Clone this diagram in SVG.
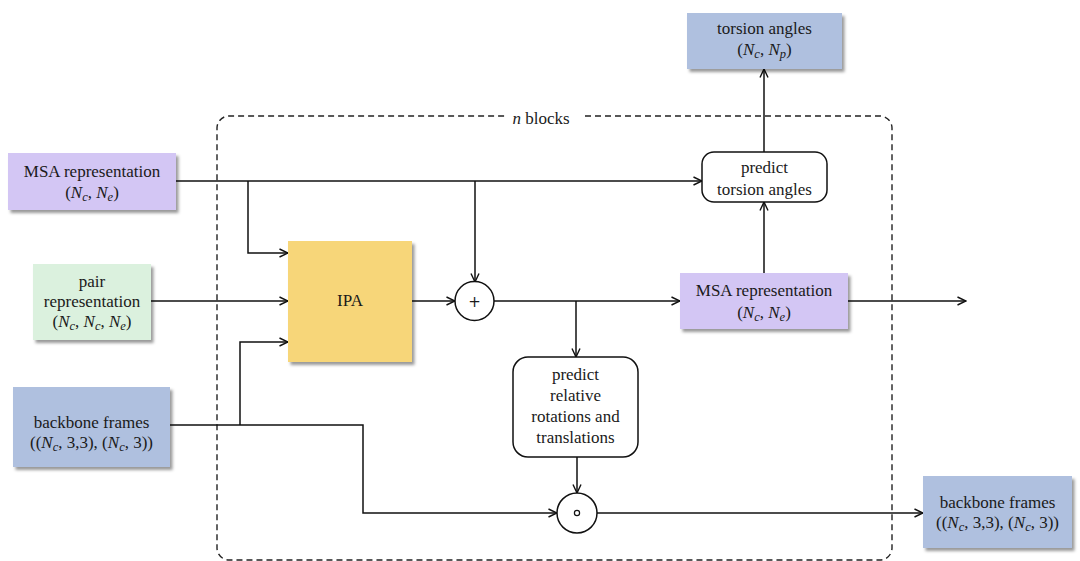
<svg xmlns="http://www.w3.org/2000/svg" width="1080" height="561" viewBox="0 0 1080 561">
  <defs>
    <filter id="shadow" x="-10%" y="-10%" width="125%" height="130%">
      <feDropShadow dx="2.5" dy="3" stdDeviation="1.8" flood-color="#000" flood-opacity="0.4"/>
    </filter>
    <marker id="arrow" viewBox="0 0 10 10" refX="9.5" refY="5" markerWidth="10" markerHeight="10" markerUnits="userSpaceOnUse" orient="auto">
      <path d="M1,1 L9.5,5 L1,9" fill="none" stroke="#111" stroke-width="1.4"/>
    </marker>
  </defs>
  <style>
    text { font-family: "Liberation Serif", "Times New Roman", serif; font-size: 17px; fill: #1a1a1a; text-anchor: middle; }
    .m { font-style: italic; }
    .s { font-size: 12.5px; font-style: italic; }
    .op { font-family: "DejaVu Sans", sans-serif; font-size: 15px; }
    .conn path { fill: none; stroke: #111; stroke-width: 1.5; marker-end: url(#arrow); }
    .msa { fill: #d3c6f4; filter: url(#shadow); }
    .pair { fill: #dbf1de; filter: url(#shadow); }
    .bb { fill: #afc0df; filter: url(#shadow); }
    .ipa { fill: #f7d679; filter: url(#shadow); }
    .proc { fill: #fff; stroke: #111; stroke-width: 1.5; }
  </style>
  <rect width="1080" height="561" fill="#fff"/>

  <!-- repeated block boundary -->
  <g id="block-frame">
    <path d="M585,116 H880 A12,12 0 0 1 892,128 V548 A12,12 0 0 1 880,560 H229 A12,12 0 0 1 217,548 V128 A12,12 0 0 1 229,116 H505" fill="none" stroke="#222" stroke-width="1.4" stroke-dasharray="6,4"/>
    <text x="541" y="124"><tspan class="m">n</tspan> blocks</text>
  </g>

  <!-- connectors -->
  <g class="conn" id="connectors">
    <path d="M176,181 H702"/>
    <path d="M248,181 V253 H288"/>
    <path d="M475,181 V282"/>
    <path d="M151,301 H288"/>
    <path d="M170,425 H363 V513 H557"/>
    <path d="M240,425 V342 H288"/>
    <path d="M412,301 H455"/>
    <path d="M494,301 H680"/>
    <path d="M576,301 V357"/>
    <path d="M577,457 V493"/>
    <path d="M597,513 H923"/>
    <path d="M764,273 V202"/>
    <path d="M764,152 V69"/>
    <path d="M848,301 H966"/>
  </g>

  <!-- inputs -->
  <g id="msa-in">
    <rect class="msa" x="8" y="153" width="168" height="57"/>
    <text x="92" y="177">MSA representation</text>
    <text x="92" y="198">(<tspan class="m">N</tspan><tspan class="s" dy="3">c</tspan><tspan dy="-3">, </tspan><tspan class="m">N</tspan><tspan class="s" dy="3">e</tspan><tspan dy="-3">)</tspan></text>
  </g>
  <g id="pair-in">
    <rect class="pair" x="33" y="264" width="118" height="76"/>
    <text x="92" y="287">pair</text>
    <text x="92" y="307">representation</text>
    <text x="92" y="327">(<tspan class="m">N</tspan><tspan class="s" dy="3">c</tspan><tspan dy="-3">, </tspan><tspan class="m">N</tspan><tspan class="s" dy="3">c</tspan><tspan dy="-3">, </tspan><tspan class="m">N</tspan><tspan class="s" dy="3">e</tspan><tspan dy="-3">)</tspan></text>
  </g>
  <g id="frames-in">
    <rect class="bb" x="13" y="387" width="157" height="80"/>
    <text x="91.5" y="428">backbone frames</text>
    <text x="91.5" y="448">((<tspan class="m">N</tspan><tspan class="s" dy="3">c</tspan><tspan dy="-3">, 3,3), (</tspan><tspan class="m">N</tspan><tspan class="s" dy="3">c</tspan><tspan dy="-3">, 3))</tspan></text>
  </g>

  <!-- block internals -->
  <g id="ipa">
    <rect class="ipa" x="288" y="241" width="124" height="121"/>
    <text x="350" y="306">IPA</text>
  </g>
  <g id="add">
    <circle class="proc" cx="474.5" cy="301" r="19.5"/>
    <text class="op" x="474.5" y="306.5">+</text>
  </g>
  <g id="msa-out">
    <rect class="msa" x="680" y="273" width="168" height="56"/>
    <text x="764" y="296">MSA representation</text>
    <text x="764" y="318">(<tspan class="m">N</tspan><tspan class="s" dy="3">c</tspan><tspan dy="-3">, </tspan><tspan class="m">N</tspan><tspan class="s" dy="3">e</tspan><tspan dy="-3">)</tspan></text>
  </g>
  <g id="predict-torsion">
    <rect class="proc" x="702" y="152" width="125" height="50" rx="12"/>
    <text x="764.5" y="173">predict</text>
    <text x="764.5" y="195">torsion angles</text>
  </g>
  <g id="predict-frames">
    <rect class="proc" x="513" y="357" width="125" height="100" rx="15"/>
    <text x="575.5" y="380">predict</text>
    <text x="575.5" y="401">relative</text>
    <text x="575.5" y="422">rotations and</text>
    <text x="575.5" y="443">translations</text>
  </g>
  <g id="compose">
    <circle class="proc" cx="577" cy="513" r="20"/>
    <circle cx="577" cy="513" r="2.6" fill="none" stroke="#111" stroke-width="1.2"/>
  </g>

  <!-- outputs -->
  <g id="torsion-out">
    <rect class="bb" x="687" y="13" width="155" height="56"/>
    <text x="764.5" y="34">torsion angles</text>
    <text x="764.5" y="55">(<tspan class="m">N</tspan><tspan class="s" dy="3">c</tspan><tspan dy="-3">, </tspan><tspan class="m">N</tspan><tspan class="s" dy="3">p</tspan><tspan dy="-3">)</tspan></text>
  </g>
  <g id="frames-out">
    <rect class="bb" x="923" y="476" width="149" height="72"/>
    <text x="997.5" y="508">backbone frames</text>
    <text x="997.5" y="528">((<tspan class="m">N</tspan><tspan class="s" dy="3">c</tspan><tspan dy="-3">, 3,3), (</tspan><tspan class="m">N</tspan><tspan class="s" dy="3">c</tspan><tspan dy="-3">, 3))</tspan></text>
  </g>
</svg>
